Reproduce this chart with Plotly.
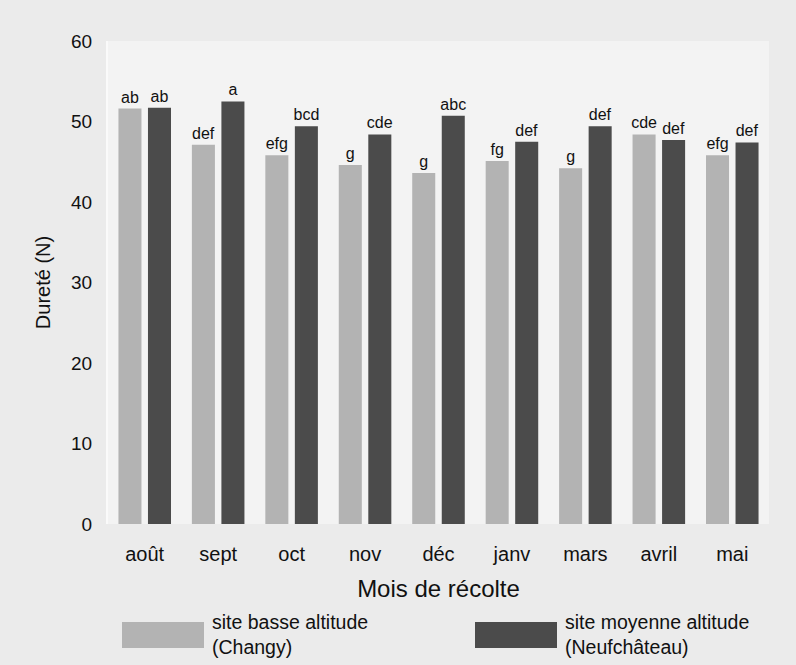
import plotly.graph_objects as go

months = ["août", "sept", "oct", "nov", "déc", "janv", "mars", "avril", "mai"]
series_names = ["site basse altitude<br>(Changy)", "site moyenne altitude<br>(Neufchâteau)"]
basse = [51.6, 47.1, 45.8, 44.6, 43.6, 45.1, 44.2, 48.4, 45.8]
moyenne = [51.7, 52.5, 49.4, 48.4, 50.7, 47.5, 49.4, 47.7, 47.4]
letters_basse = ["ab", "def", "efg", "g", "g", "fg", "g", "cde", "efg"]
letters_moyenne = ["ab", "a", "bcd", "cde", "abc", "def", "def", "def", "def"]
y_ticks = [0, 10, 20, 30, 40, 50, 60]

light = "#b3b3b3"
dark = "#4b4b4b"
font_family = "Liberation Sans, Arial, sans-serif"

fig = go.Figure()
fig.add_trace(go.Bar(x=months, y=basse, name=series_names[0],
                     marker_color=light, marker_line_width=0, text=letters_basse,
                     textposition="outside", textfont=dict(size=16, color="#111"),
                     cliponaxis=False))
fig.add_trace(go.Bar(x=months, y=moyenne, name=series_names[1],
                     marker_color=dark, marker_line_width=0, text=letters_moyenne,
                     textposition="outside", textfont=dict(size=16, color="#111"),
                     cliponaxis=False))

W, H = 796, 665
ml, mr, mt, mb = 108, 27, 41, 141
pw, ph = W - ml - mr, H - mt - mb

fig.update_layout(
    width=W, height=H,
    margin=dict(l=ml, r=mr, t=mt, b=mb),
    barmode="group", bargap=0.196, bargroupgap=0.22,
    paper_bgcolor="#ebebeb", plot_bgcolor="#f3f3f3",
    font=dict(family=font_family, color="#111"),
    showlegend=False,
    uniformtext=dict(minsize=16, mode="show"),
)
fig.update_xaxes(showgrid=False, showline=False, ticks="", tickfont=dict(size=20),
                 ticklabelstandoff=16,
                 title=dict(text="Mois de récolte", font=dict(size=24), standoff=16))
fig.update_yaxes(range=[0, 60], tickvals=y_ticks, showgrid=False, zeroline=False,
                 showline=True, linecolor="#fafafa", linewidth=2,
                 ticks="", tickfont=dict(size=19), ticklabelstandoff=10,
                 title=dict(text="Dureté (N)", font=dict(size=20), standoff=15))


def px_x(x):
    return (x - ml) / pw


def px_y(y):
    return (H - mb - y) / ph


# legend drawn as large swatches below the chart
legend_pos = [122, 475]
for i, color in enumerate([light, dark]):
    x0 = legend_pos[i]
    fig.add_shape(type="rect", xref="paper", yref="paper",
                  x0=px_x(x0), x1=px_x(x0 + 82),
                  y0=px_y(648), y1=px_y(622),
                  fillcolor=color, line_width=0)
    fig.add_annotation(xref="paper", yref="paper",
                       x=px_x(x0 + 88), y=px_y(635),
                       text=series_names[i], showarrow=False, xanchor="left",
                       yanchor="middle", align="left",
                       font=dict(size=19.5, color="#111"))

fig.write_html("out.html", config={"displayModeBar": False},
               post_script="document.body.style.margin='0';")
